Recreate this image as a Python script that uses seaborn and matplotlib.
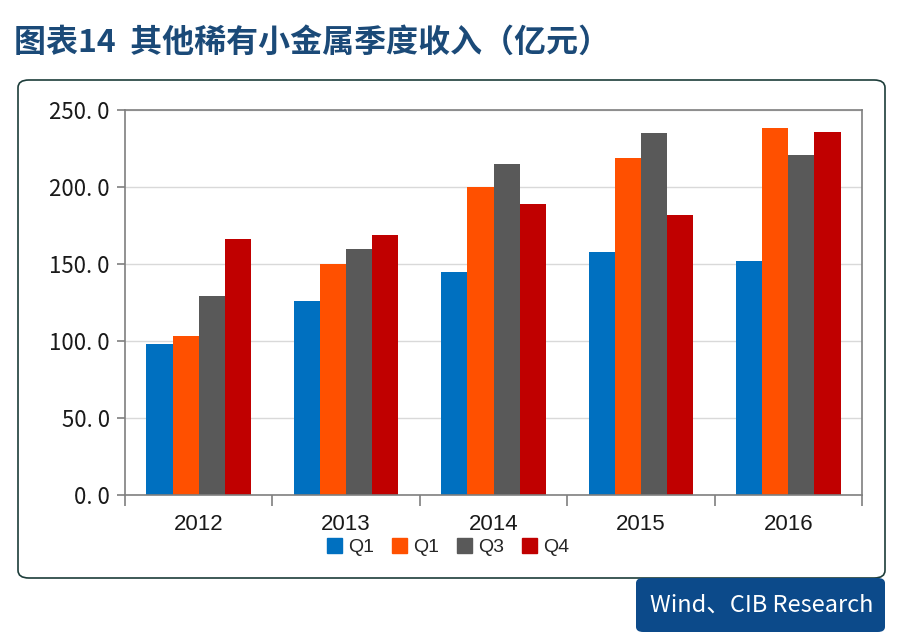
import pandas as pd
import matplotlib.pyplot as plt
import seaborn as sns
from matplotlib.patches import FancyBboxPatch, Rectangle
from matplotlib.ticker import FixedLocator, FuncFormatter

# Data (亿元)
years = ['2012', '2013', '2014', '2015', '2016']
quarters = ['Q1', 'Q2', 'Q3', 'Q4']
legend_labels = ['Q1', 'Q1', 'Q3', 'Q4']  # as printed in the original legend
q1 = [98, 126, 145, 158, 152]
q2 = [103, 150, 200, 219, 238]
q3 = [129, 160, 215, 235, 221]
q4 = [166, 169, 189, 182, 236]
colors = ['#0070C0', '#FF5000', '#595959', '#C00000']

df = pd.DataFrame({'Year': years, 'Q1': q1, 'Q2': q2, 'Q3': q3, 'Q4': q4})
df_long = df.melt(id_vars='Year', var_name='Quarter', value_name='Revenue')

sns.set_style('white')
plt.rcParams['font.family'] = ['Noto Sans CJK SC', 'DejaVu Sans']

fig = plt.figure(figsize=(9.05, 6.35), dpi=100)
ax = fig.add_axes([125 / 905, 1 - 495 / 635, (862 - 125) / 905, (495 - 110) / 635])

sns.barplot(data=df_long, x='Year', y='Revenue', hue='Quarter', order=years,
            hue_order=quarters, palette=colors, width=0.71, saturation=1,
            linewidth=0, ax=ax, legend=False)

ax.set_ylim(0, 250)
ax.set_xlim(-0.5, len(years) - 0.5)
ax.set_yticks([0, 50, 100, 150, 200, 250])
ax.yaxis.set_major_formatter(FuncFormatter(lambda v, p: f'{v:.0f}. 0'))
ax.yaxis.grid(True, color='#d9d9d9', linewidth=1)
ax.set_axisbelow(True)
ax.set_xlabel('')
ax.set_ylabel('')
for s in ax.spines.values():
    s.set_color('#7f7f7f')
    s.set_linewidth(1.2)
ax.tick_params(axis='y', length=6, width=1.2, color='#7f7f7f', labelsize=16,
               labelcolor='#1a1a1a', pad=5, left=True)
ax.tick_params(axis='x', which='major', length=0, labelsize=16,
               labelcolor='#1a1a1a', pad=14)
ax.xaxis.set_minor_locator(FixedLocator([i - 0.5 for i in range(len(years) + 1)]))
ax.tick_params(axis='x', which='minor', length=8, width=1.2, color='#7f7f7f',
               bottom=True)
for lbl in ax.get_xticklabels():
    lbl.set_family(['Liberation Sans', 'DejaVu Sans'])

# legend with the original labels
handles = [Rectangle((0, 0), 1, 1, color=c) for c in colors]
fig.legend(handles, legend_labels, loc='center', bbox_to_anchor=(448 / 905, 1 - 547 / 635),
           ncol=4, frameon=False, handlelength=0.8, handleheight=0.8,
           handletextpad=0.3, columnspacing=0.9, prop={'family': ['Liberation Sans'], 'size': 14})

# outer rounded frame
frame = FancyBboxPatch((18 / 905, 1 - 578 / 635), (885 - 18) / 905, (578 - 80) / 635,
                       boxstyle='round,pad=0,rounding_size=0.012', transform=fig.transFigure,
                       facecolor='none', edgecolor='#1d3d3a', linewidth=1.2, zorder=0)
fig.patches.append(frame)

# title
fig.text(14 / 905, 1 - 43 / 635, '图表14  其他稀有小金属季度收入（亿元）', fontsize=23,
         fontweight='bold', color='#1b4a78', va='center', ha='left')

# source box
src = FancyBboxPatch((636 / 905, 1 - 632 / 635), (885 - 636) / 905, (632 - 578) / 635,
                     boxstyle='round,pad=0,rounding_size=0.008', transform=fig.transFigure,
                     facecolor='#0c4a8a', edgecolor='none', zorder=1)
fig.patches.append(src)
fig.text(762 / 905, 1 - 605 / 635, 'Wind、CIB Research', fontsize=17, color='white',
         ha='center', va='center', zorder=2)

fig.savefig('out.png', dpi=100)
